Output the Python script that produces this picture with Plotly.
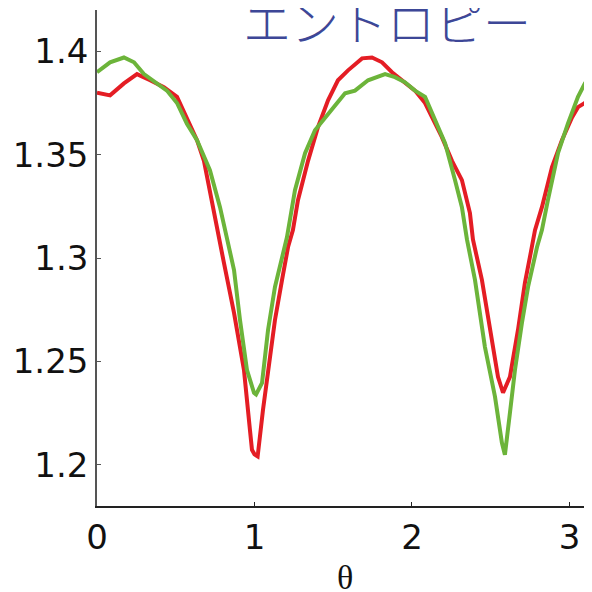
import plotly.graph_objects as go

# Red curve
theta_red = [0.000, 0.083, 0.171, 0.254, 0.337, 0.425, 0.508, 0.571, 0.635, 0.679,
             0.730, 0.781, 0.806, 0.870, 0.933, 0.971, 0.984, 1.000, 1.020, 1.054,
             1.086, 1.130, 1.175, 1.213, 1.244, 1.276, 1.340, 1.403, 1.467, 1.530,
             1.594, 1.683, 1.746, 1.810, 1.873, 1.956, 2.019, 2.083, 2.127, 2.190,
             2.254, 2.317, 2.368, 2.387, 2.444, 2.495, 2.546, 2.578, 2.622, 2.673,
             2.717, 2.749, 2.781, 2.825, 2.889, 2.952, 3.016, 3.054, 3.098, 3.143]
entropy_red = [1.380, 1.3787, 1.3845, 1.389, 1.386, 1.3826, 1.378, 1.368, 1.357, 1.347,
               1.328, 1.309, 1.2976, 1.2734, 1.2459, 1.2169, 1.2072, 1.2050, 1.2040, 1.2266,
               1.2459, 1.270, 1.2894, 1.3053, 1.3135, 1.328, 1.347, 1.3633, 1.3763, 1.386,
               1.3908, 1.3966, 1.397, 1.3947, 1.3899, 1.385, 1.381, 1.375, 1.368, 1.3585,
               1.347, 1.3377, 1.3217, 1.309, 1.2894, 1.2652, 1.2425, 1.2348, 1.2425, 1.2652,
               1.288, 1.3005, 1.3135, 1.3246, 1.344, 1.357, 1.368, 1.373, 1.375, 1.3797]

# Green curve
theta_green = [0.000, 0.083, 0.171, 0.235, 0.298, 0.381, 0.444, 0.508, 0.571, 0.635,
               0.717, 0.781, 0.825, 0.870, 0.908, 0.952, 0.997, 1.010, 1.048, 1.086,
               1.130, 1.175, 1.206, 1.257, 1.321, 1.384, 1.448, 1.511, 1.575, 1.638,
               1.721, 1.829, 1.892, 1.956, 2.019, 2.083, 2.146, 2.210, 2.273, 2.317,
               2.349, 2.400, 2.463, 2.527, 2.571, 2.590, 2.622, 2.654, 2.698, 2.737,
               2.794, 2.825, 2.863, 2.927, 2.990, 3.054, 3.098, 3.143]
entropy_green = [1.3899, 1.3947, 1.397, 1.3947, 1.389, 1.3845, 1.381, 1.375, 1.365, 1.357,
                 1.3425, 1.3246, 1.309, 1.2942, 1.270, 1.2459, 1.2348, 1.2340, 1.2396, 1.2652,
                 1.286, 1.3005, 1.310, 1.3328, 1.3507, 1.3618, 1.368, 1.374, 1.3797, 1.381,
                 1.386, 1.389, 1.3875, 1.385, 1.381, 1.378, 1.3667, 1.3556, 1.3377, 1.3246,
                 1.309, 1.2894, 1.257, 1.2329, 1.2106, 1.2048, 1.2251, 1.2459, 1.2686, 1.286,
                 1.3053, 1.3135, 1.328, 1.3507, 1.365, 1.378, 1.3845, 1.389]

x_ticks = [0, 1, 2, 3]
y_ticks = [1.2, 1.25, 1.3, 1.35, 1.4]
y_tick_labels = ["1.2", "1.25", "1.3", "1.35", "1.4"]
title_text = "エントロピー"
x_label = "θ"

fig = go.Figure()
fig.add_trace(go.Scatter(x=theta_red, y=entropy_red, mode="lines",
                         line=dict(color="#e41d24", width=4), showlegend=False))
fig.add_trace(go.Scatter(x=theta_green, y=entropy_green, mode="lines",
                         line=dict(color="#6cb43a", width=4), showlegend=False))

fig.add_annotation(text=title_text, xref="paper", yref="paper", x=0.586, y=0.980,
                   xanchor="center", yanchor="middle", showarrow=False,
                   font=dict(family="Noto Sans CJK JP", size=48, color="#3d4797", weight=300))

fig.add_annotation(text=x_label, xref="paper", yref="paper", x=0.5, y=-0.145,
                   xanchor="center", yanchor="middle", showarrow=False,
                   font=dict(family="Liberation Serif", size=34, color="#111"))

fig.update_layout(
    width=584, height=584,
    margin=dict(l=89, r=0, t=2, b=86),
    plot_bgcolor="white", paper_bgcolor="white",
    xaxis=dict(range=[0, 3.143], tickvals=x_ticks, ticktext=[str(v) for v in x_ticks],
               showline=True, linecolor="#222", linewidth=1.5, ticks="inside",
               ticklen=4, tickcolor="#222", showgrid=False, zeroline=False,
               automargin=False,
               tickfont=dict(family="DejaVu Sans", size=34, color="#111")),
    yaxis=dict(range=[1.18, 1.42], tickvals=y_ticks, ticktext=y_tick_labels,
               showline=True, linecolor="#555", linewidth=1.5, ticks="inside",
               ticklen=4, tickcolor="#555", showgrid=False, zeroline=False,
               automargin=False,
               tickfont=dict(family="DejaVu Sans", size=34, color="#111")),
)

fig.write_html("out.html")
